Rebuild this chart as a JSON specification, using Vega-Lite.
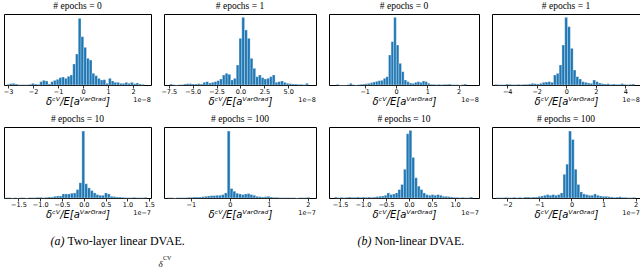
{
"$schema": "https://vega.github.io/schema/vega-lite/v6.json",
"background": "white",
"padding": {"left": 2, "top": 0, "right": 0, "bottom": 0},
"spacing": 11,
"vconcat": [
 {"bounds": "flush", "columns": 4, "spacing": {"row": 42, "column": 13}, "concat": [
    {"title": "# epochs = 0", "width": 147, "height": 71, "layer": [
     {"data": {"name": "p1"}, "mark": {"type": "bar", "color": "#1f77b4", "stroke": "#ffffff", "strokeWidth": 0.3},
      "encoding": {"x": {"field": "lo", "type": "quantitative", "scale": {"domain": [-3.16, 2.72], "nice": false, "zero": false}, "axis": {"values": [-3,-2,-1,0,1,2], "labelExpr": "replace(format(datum.value,'d'),'-','−')", "title": "δᶜⱽ/E[aⱽᵃʳᴳʳᵃᵈ]"}},
       "x2": {"field": "hi"}, "y": {"field": "n", "type": "quantitative", "scale": {"domain": [0, 213]}, "axis": null}, "y2": {"datum": 0}}},
     {"data": {"name": "s8"}, "mark": {"type": "text", "align": "right", "baseline": "middle", "dy": 15, "font": "DejaVu Sans", "fontSize": 6.5, "color": "#000"},
      "encoding": {"x": {"value": "width"}, "y": {"value": "height"}, "text": {"field": "s"}}}
    ]},
    {"title": "# epochs = 1", "width": 152, "height": 71, "layer": [
     {"data": {"name": "p2"}, "mark": {"type": "bar", "color": "#1f77b4", "stroke": "#ffffff", "strokeWidth": 0.3},
      "encoding": {"x": {"field": "lo", "type": "quantitative", "scale": {"domain": [-8.0, 7.9], "nice": false, "zero": false}, "axis": {"values": [-7.5,-5,-2.5,0,2.5,5], "labelExpr": "replace(format(datum.value,'.1f'),'-','−')", "title": "δᶜⱽ/E[aⱽᵃʳᴳʳᵃᵈ]"}},
       "x2": {"field": "hi"}, "y": {"field": "n", "type": "quantitative", "scale": {"domain": [0, 213]}, "axis": null}, "y2": {"datum": 0}}},
     {"data": {"name": "s8"}, "mark": {"type": "text", "align": "right", "baseline": "middle", "dy": 15, "font": "DejaVu Sans", "fontSize": 6.5, "color": "#000"},
      "encoding": {"x": {"value": "width"}, "y": {"value": "height"}, "text": {"field": "s"}}}
    ]},
    {"title": "# epochs = 0", "width": 150, "height": 71, "layer": [
     {"data": {"name": "p3"}, "mark": {"type": "bar", "color": "#1f77b4", "stroke": "#ffffff", "strokeWidth": 0.3},
      "encoding": {"x": {"field": "lo", "type": "quantitative", "scale": {"domain": [-2.14, 2.65], "nice": false, "zero": false}, "axis": {"values": [-1,0,1,2], "labelExpr": "replace(format(datum.value,'d'),'-','−')", "title": "δᶜⱽ/E[aⱽᵃʳᴳʳᵃᵈ]"}},
       "x2": {"field": "hi"}, "y": {"field": "n", "type": "quantitative", "scale": {"domain": [0, 213]}, "axis": null}, "y2": {"datum": 0}}},
     {"data": {"name": "s8"}, "mark": {"type": "text", "align": "right", "baseline": "middle", "dy": 15, "font": "DejaVu Sans", "fontSize": 6.5, "color": "#000"},
      "encoding": {"x": {"value": "width"}, "y": {"value": "height"}, "text": {"field": "s"}}}
    ]},
    {"title": "# epochs = 1", "width": 148, "height": 71, "layer": [
     {"data": {"name": "p4"}, "mark": {"type": "bar", "color": "#1f77b4", "stroke": "#ffffff", "strokeWidth": 0.3},
      "encoding": {"x": {"field": "lo", "type": "quantitative", "scale": {"domain": [-5.03, 5.0], "nice": false, "zero": false}, "axis": {"values": [-4,-2,0,2,4], "labelExpr": "replace(format(datum.value,'d'),'-','−')", "title": "δᶜⱽ/E[aⱽᵃʳᴳʳᵃᵈ]"}},
       "x2": {"field": "hi"}, "y": {"field": "n", "type": "quantitative", "scale": {"domain": [0, 213]}, "axis": null}, "y2": {"datum": 0}}},
     {"data": {"name": "s8"}, "mark": {"type": "text", "align": "right", "baseline": "middle", "dy": 15, "font": "DejaVu Sans", "fontSize": 6.5, "color": "#000"},
      "encoding": {"x": {"value": "width"}, "y": {"value": "height"}, "text": {"field": "s"}}}
    ]},
    {"title": "# epochs = 10", "width": 147, "height": 71, "layer": [
     {"data": {"name": "p5"}, "mark": {"type": "bar", "color": "#1f77b4", "stroke": "#ffffff", "strokeWidth": 0.3},
      "encoding": {"x": {"field": "lo", "type": "quantitative", "scale": {"domain": [-1.83, 1.54], "nice": false, "zero": false}, "axis": {"values": [-1.5,-1,-0.5,0,0.5,1,1.5], "labelExpr": "replace(format(datum.value,'.1f'),'-','−')", "title": "δᶜⱽ/E[aⱽᵃʳᴳʳᵃᵈ]"}},
       "x2": {"field": "hi"}, "y": {"field": "n", "type": "quantitative", "scale": {"domain": [0, 210]}, "axis": null}, "y2": {"datum": 0}}},
     {"data": {"name": "s7"}, "mark": {"type": "text", "align": "right", "baseline": "middle", "dy": 15, "font": "DejaVu Sans", "fontSize": 6.5, "color": "#000"},
      "encoding": {"x": {"value": "width"}, "y": {"value": "height"}, "text": {"field": "s"}}}
    ]},
    {"title": "# epochs = 100", "width": 152, "height": 71, "layer": [
     {"data": {"name": "p6"}, "mark": {"type": "bar", "color": "#1f77b4", "stroke": "#ffffff", "strokeWidth": 0.3},
      "encoding": {"x": {"field": "lo", "type": "quantitative", "scale": {"domain": [-1.69, 2.21], "nice": false, "zero": false}, "axis": {"values": [-1,0,1,2], "labelExpr": "replace(format(datum.value,'d'),'-','−')", "title": "δᶜⱽ/E[aⱽᵃʳᴳʳᵃᵈ]"}},
       "x2": {"field": "hi"}, "y": {"field": "n", "type": "quantitative", "scale": {"domain": [0, 210]}, "axis": null}, "y2": {"datum": 0}}},
     {"data": {"name": "s7"}, "mark": {"type": "text", "align": "right", "baseline": "middle", "dy": 15, "font": "DejaVu Sans", "fontSize": 6.5, "color": "#000"},
      "encoding": {"x": {"value": "width"}, "y": {"value": "height"}, "text": {"field": "s"}}}
    ]},
    {"title": "# epochs = 10", "width": 150, "height": 71, "layer": [
     {"data": {"name": "p7"}, "mark": {"type": "bar", "color": "#1f77b4", "stroke": "#ffffff", "strokeWidth": 0.3},
      "encoding": {"x": {"field": "lo", "type": "quantitative", "scale": {"domain": [-1.74, 1.52], "nice": false, "zero": false}, "axis": {"values": [-1.5,-1,-0.5,0,0.5,1], "labelExpr": "replace(format(datum.value,'.1f'),'-','−')", "title": "δᶜⱽ/E[aⱽᵃʳᴳʳᵃᵈ]"}},
       "x2": {"field": "hi"}, "y": {"field": "n", "type": "quantitative", "scale": {"domain": [0, 210]}, "axis": null}, "y2": {"datum": 0}}},
     {"data": {"name": "s7"}, "mark": {"type": "text", "align": "right", "baseline": "middle", "dy": 15, "font": "DejaVu Sans", "fontSize": 6.5, "color": "#000"},
      "encoding": {"x": {"value": "width"}, "y": {"value": "height"}, "text": {"field": "s"}}}
    ]},
    {"title": "# epochs = 100", "width": 148, "height": 71, "layer": [
     {"data": {"name": "p8"}, "mark": {"type": "bar", "color": "#1f77b4", "stroke": "#ffffff", "strokeWidth": 0.3},
      "encoding": {"x": {"field": "lo", "type": "quantitative", "scale": {"domain": [-2.48, 2.14], "nice": false, "zero": false}, "axis": {"values": [-2,-1,0,1,2], "labelExpr": "replace(format(datum.value,'d'),'-','−')", "title": "δᶜⱽ/E[aⱽᵃʳᴳʳᵃᵈ]"}},
       "x2": {"field": "hi"}, "y": {"field": "n", "type": "quantitative", "scale": {"domain": [0, 210]}, "axis": null}, "y2": {"datum": 0}}},
     {"data": {"name": "s7"}, "mark": {"type": "text", "align": "right", "baseline": "middle", "dy": 15, "font": "DejaVu Sans", "fontSize": 6.5, "color": "#000"},
      "encoding": {"x": {"value": "width"}, "y": {"value": "height"}, "text": {"field": "s"}}}
    ]}
 ]},
 {"width": 614, "height": 20, "view": {"stroke": null}, "layer": [
  {"data": {"name": "captions"}, "mark": {"type": "text", "font": "Liberation Serif", "fontSize": 12, "fontStyle": "italic", "align": "right", "baseline": "middle", "dx": -93, "color": "#000"},
   "encoding": {"x": {"field": "panel", "type": "nominal", "axis": null}, "text": {"field": "tag"}}},
  {"data": {"name": "captions"}, "mark": {"type": "text", "font": "Liberation Serif", "fontSize": 12, "align": "left", "baseline": "middle", "dx": -90, "color": "#000"},
   "encoding": {"x": {"field": "panel", "type": "nominal", "axis": null}, "text": {"field": "name"}}},
  {"data": {"name": "frag"}, "mark": {"type": "text", "font": "Liberation Serif", "fontSize": 9, "fontStyle": "italic", "align": "left", "baseline": "middle", "dx": 1, "dy": 23, "color": "#000"},
   "encoding": {"x": {"field": "panel", "type": "nominal", "axis": null}, "text": {"field": "base"}}},
  {"data": {"name": "frag"}, "mark": {"type": "text", "font": "Liberation Serif", "fontSize": 6, "align": "left", "baseline": "middle", "dx": 5.5, "dy": 17, "color": "#000"},
   "encoding": {"x": {"field": "panel", "type": "nominal", "axis": null}, "text": {"field": "sup"}}}
 ]}
],
"datasets": {
 "s8": [{"s": "1e−8"}],
 "s7": [{"s": "1e−7"}],
 "captions": [{"panel": "a", "tag": "(a)", "name": "Two-layer linear DVAE."}, {"panel": "b", "tag": "(b)", "name": "Non-linear DVAE."}],
 "frag": [{"panel": "a", "base": "δ", "sup": "CV"}],
 "p1": [{"lo":-3.05,"hi":-2.94,"n":2},{"lo":-2.94,"hi":-2.83,"n":4},{"lo":-2.83,"hi":-2.72,"n":5},{"lo":-2.72,"hi":-2.61,"n":3},{"lo":-2.61,"hi":-2.5,"n":1},{"lo":-2.5,"hi":-2.39,"n":1},{"lo":-2.39,"hi":-2.28,"n":1},{"lo":-2.28,"hi":-2.17,"n":1},{"lo":-2.17,"hi":-2.06,"n":2},{"lo":-2.06,"hi":-1.95,"n":5},{"lo":-1.95,"hi":-1.84,"n":3},{"lo":-1.84,"hi":-1.73,"n":2},{"lo":-1.73,"hi":-1.62,"n":10},{"lo":-1.62,"hi":-1.51,"n":14},{"lo":-1.51,"hi":-1.4,"n":12},{"lo":-1.4,"hi":-1.29,"n":3},{"lo":-1.29,"hi":-1.18,"n":10},{"lo":-1.18,"hi":-1.07,"n":14},{"lo":-1.07,"hi":-0.96,"n":17},{"lo":-0.96,"hi":-0.85,"n":22},{"lo":-0.85,"hi":-0.74,"n":24},{"lo":-0.74,"hi":-0.63,"n":20},{"lo":-0.63,"hi":-0.52,"n":26},{"lo":-0.52,"hi":-0.41,"n":30},{"lo":-0.41,"hi":-0.3,"n":63},{"lo":-0.3,"hi":-0.19,"n":93},{"lo":-0.19,"hi":-0.08,"n":200},{"lo":-0.08,"hi":0.03,"n":145},{"lo":0.03,"hi":0.14,"n":113},{"lo":0.14,"hi":0.25,"n":80},{"lo":0.25,"hi":0.36,"n":75},{"lo":0.36,"hi":0.47,"n":35},{"lo":0.47,"hi":0.58,"n":28},{"lo":0.58,"hi":0.69,"n":20},{"lo":0.69,"hi":0.8,"n":15},{"lo":0.8,"hi":0.91,"n":16},{"lo":0.91,"hi":1.02,"n":5},{"lo":1.02,"hi":1.13,"n":20},{"lo":1.13,"hi":1.24,"n":12},{"lo":1.24,"hi":1.35,"n":8},{"lo":1.35,"hi":1.46,"n":8},{"lo":1.46,"hi":1.57,"n":5},{"lo":1.57,"hi":1.68,"n":5},{"lo":1.68,"hi":1.79,"n":8},{"lo":1.79,"hi":1.9,"n":5},{"lo":1.9,"hi":2.01,"n":8},{"lo":2.01,"hi":2.12,"n":4},{"lo":2.12,"hi":2.23,"n":6},{"lo":2.23,"hi":2.34,"n":3},{"lo":2.34,"hi":2.45,"n":2}],
 "p2": [{"lo":-7.4,"hi":-7.11,"n":3},{"lo":-7.11,"hi":-6.82,"n":1},{"lo":-6.82,"hi":-6.53,"n":0},{"lo":-6.53,"hi":-6.24,"n":1},{"lo":-6.24,"hi":-5.95,"n":1},{"lo":-5.95,"hi":-5.66,"n":3},{"lo":-5.66,"hi":-5.37,"n":4},{"lo":-5.37,"hi":-5.08,"n":4},{"lo":-5.08,"hi":-4.79,"n":3},{"lo":-4.79,"hi":-4.5,"n":3},{"lo":-4.5,"hi":-4.21,"n":4},{"lo":-4.21,"hi":-3.92,"n":3},{"lo":-3.92,"hi":-3.63,"n":8},{"lo":-3.63,"hi":-3.34,"n":10},{"lo":-3.34,"hi":-3.05,"n":6},{"lo":-3.05,"hi":-2.76,"n":8},{"lo":-2.76,"hi":-2.47,"n":10},{"lo":-2.47,"hi":-2.18,"n":13},{"lo":-2.18,"hi":-1.89,"n":18},{"lo":-1.89,"hi":-1.6,"n":30},{"lo":-1.6,"hi":-1.31,"n":35},{"lo":-1.31,"hi":-1.02,"n":32},{"lo":-1.02,"hi":-0.73,"n":15},{"lo":-0.73,"hi":-0.44,"n":20},{"lo":-0.44,"hi":-0.15,"n":60},{"lo":-0.15,"hi":0.14,"n":140},{"lo":0.14,"hi":0.43,"n":203},{"lo":0.43,"hi":0.72,"n":165},{"lo":0.72,"hi":1.01,"n":140},{"lo":1.01,"hi":1.3,"n":80},{"lo":1.3,"hi":1.59,"n":50},{"lo":1.59,"hi":1.88,"n":25},{"lo":1.88,"hi":2.17,"n":30},{"lo":2.17,"hi":2.46,"n":22},{"lo":2.46,"hi":2.75,"n":18},{"lo":2.75,"hi":3.04,"n":20},{"lo":3.04,"hi":3.33,"n":25},{"lo":3.33,"hi":3.62,"n":30},{"lo":3.62,"hi":3.91,"n":8},{"lo":3.91,"hi":4.2,"n":10},{"lo":4.2,"hi":4.49,"n":12},{"lo":4.49,"hi":4.78,"n":8},{"lo":4.78,"hi":5.07,"n":5},{"lo":5.07,"hi":5.36,"n":4},{"lo":5.36,"hi":5.65,"n":3},{"lo":5.65,"hi":5.94,"n":3},{"lo":5.94,"hi":6.23,"n":2},{"lo":6.23,"hi":6.52,"n":2},{"lo":6.52,"hi":6.81,"n":1},{"lo":6.81,"hi":7.1,"n":5}],
 "p3": [{"lo":-1.9,"hi":-1.817,"n":2},{"lo":-1.817,"hi":-1.734,"n":0},{"lo":-1.734,"hi":-1.651,"n":0},{"lo":-1.651,"hi":-1.568,"n":0},{"lo":-1.568,"hi":-1.485,"n":1},{"lo":-1.485,"hi":-1.402,"n":5},{"lo":-1.402,"hi":-1.319,"n":1},{"lo":-1.319,"hi":-1.236,"n":0},{"lo":-1.236,"hi":-1.153,"n":1},{"lo":-1.153,"hi":-1.07,"n":2},{"lo":-1.07,"hi":-0.987,"n":3},{"lo":-0.987,"hi":-0.904,"n":4},{"lo":-0.904,"hi":-0.821,"n":5},{"lo":-0.821,"hi":-0.738,"n":7},{"lo":-0.738,"hi":-0.655,"n":9},{"lo":-0.655,"hi":-0.572,"n":11},{"lo":-0.572,"hi":-0.489,"n":13},{"lo":-0.489,"hi":-0.406,"n":14},{"lo":-0.406,"hi":-0.323,"n":20},{"lo":-0.323,"hi":-0.24,"n":25},{"lo":-0.24,"hi":-0.157,"n":90},{"lo":-0.157,"hi":-0.074,"n":130},{"lo":-0.074,"hi":0.009,"n":203},{"lo":0.009,"hi":0.092,"n":120},{"lo":0.092,"hi":0.175,"n":65},{"lo":0.175,"hi":0.258,"n":40},{"lo":0.258,"hi":0.341,"n":15},{"lo":0.341,"hi":0.424,"n":10},{"lo":0.424,"hi":0.507,"n":6},{"lo":0.507,"hi":0.59,"n":5},{"lo":0.59,"hi":0.673,"n":8},{"lo":0.673,"hi":0.756,"n":10},{"lo":0.756,"hi":0.839,"n":8},{"lo":0.839,"hi":0.922,"n":12},{"lo":0.922,"hi":1.005,"n":10},{"lo":1.005,"hi":1.088,"n":5},{"lo":1.088,"hi":1.171,"n":2},{"lo":1.171,"hi":1.254,"n":2},{"lo":1.254,"hi":1.337,"n":1},{"lo":1.337,"hi":1.42,"n":2},{"lo":1.42,"hi":1.503,"n":1},{"lo":1.503,"hi":1.586,"n":2},{"lo":1.586,"hi":1.669,"n":2},{"lo":1.669,"hi":1.752,"n":3},{"lo":1.752,"hi":1.835,"n":1},{"lo":1.835,"hi":1.918,"n":1},{"lo":1.918,"hi":2.001,"n":1},{"lo":2.001,"hi":2.084,"n":0},{"lo":2.084,"hi":2.167,"n":1},{"lo":2.167,"hi":2.25,"n":3}],
 "p4": [{"lo":-4.85,"hi":-4.66,"n":2},{"lo":-4.66,"hi":-4.47,"n":1},{"lo":-4.47,"hi":-4.28,"n":1},{"lo":-4.28,"hi":-4.09,"n":1},{"lo":-4.09,"hi":-3.9,"n":3},{"lo":-3.9,"hi":-3.71,"n":2},{"lo":-3.71,"hi":-3.52,"n":1},{"lo":-3.52,"hi":-3.33,"n":1},{"lo":-3.33,"hi":-3.14,"n":2},{"lo":-3.14,"hi":-2.95,"n":1},{"lo":-2.95,"hi":-2.76,"n":2},{"lo":-2.76,"hi":-2.57,"n":2},{"lo":-2.57,"hi":-2.38,"n":3},{"lo":-2.38,"hi":-2.19,"n":5},{"lo":-2.19,"hi":-2.0,"n":4},{"lo":-2.0,"hi":-1.81,"n":3},{"lo":-1.81,"hi":-1.62,"n":5},{"lo":-1.62,"hi":-1.43,"n":8},{"lo":-1.43,"hi":-1.24,"n":9},{"lo":-1.24,"hi":-1.05,"n":10},{"lo":-1.05,"hi":-0.86,"n":8},{"lo":-0.86,"hi":-0.67,"n":30},{"lo":-0.67,"hi":-0.48,"n":35},{"lo":-0.48,"hi":-0.29,"n":60},{"lo":-0.29,"hi":-0.1,"n":120},{"lo":-0.1,"hi":0.09,"n":203},{"lo":0.09,"hi":0.28,"n":175},{"lo":0.28,"hi":0.47,"n":110},{"lo":0.47,"hi":0.66,"n":45},{"lo":0.66,"hi":0.85,"n":25},{"lo":0.85,"hi":1.04,"n":18},{"lo":1.04,"hi":1.23,"n":10},{"lo":1.23,"hi":1.42,"n":8},{"lo":1.42,"hi":1.61,"n":6},{"lo":1.61,"hi":1.8,"n":5},{"lo":1.8,"hi":1.99,"n":15},{"lo":1.99,"hi":2.18,"n":10},{"lo":2.18,"hi":2.37,"n":6},{"lo":2.37,"hi":2.56,"n":4},{"lo":2.56,"hi":2.75,"n":3},{"lo":2.75,"hi":2.94,"n":4},{"lo":2.94,"hi":3.13,"n":2},{"lo":3.13,"hi":3.32,"n":3},{"lo":3.32,"hi":3.51,"n":2},{"lo":3.51,"hi":3.7,"n":2},{"lo":3.7,"hi":3.89,"n":4},{"lo":3.89,"hi":4.08,"n":2},{"lo":4.08,"hi":4.27,"n":1},{"lo":4.27,"hi":4.46,"n":2},{"lo":4.46,"hi":4.65,"n":3}],
 "p5": [{"lo":-1.8,"hi":-1.735,"n":1},{"lo":-1.735,"hi":-1.67,"n":1},{"lo":-1.67,"hi":-1.605,"n":0},{"lo":-1.605,"hi":-1.54,"n":1},{"lo":-1.54,"hi":-1.475,"n":0},{"lo":-1.475,"hi":-1.41,"n":1},{"lo":-1.41,"hi":-1.345,"n":1},{"lo":-1.345,"hi":-1.28,"n":0},{"lo":-1.28,"hi":-1.215,"n":1},{"lo":-1.215,"hi":-1.15,"n":1},{"lo":-1.15,"hi":-1.085,"n":1},{"lo":-1.085,"hi":-1.02,"n":2},{"lo":-1.02,"hi":-0.955,"n":2},{"lo":-0.955,"hi":-0.89,"n":1},{"lo":-0.89,"hi":-0.825,"n":2},{"lo":-0.825,"hi":-0.76,"n":3},{"lo":-0.76,"hi":-0.695,"n":3},{"lo":-0.695,"hi":-0.63,"n":5},{"lo":-0.63,"hi":-0.565,"n":6},{"lo":-0.565,"hi":-0.5,"n":6},{"lo":-0.5,"hi":-0.435,"n":12},{"lo":-0.435,"hi":-0.37,"n":12},{"lo":-0.37,"hi":-0.305,"n":12},{"lo":-0.305,"hi":-0.24,"n":14},{"lo":-0.24,"hi":-0.175,"n":15},{"lo":-0.175,"hi":-0.11,"n":25},{"lo":-0.11,"hi":-0.045,"n":45},{"lo":-0.045,"hi":0.02,"n":198},{"lo":0.02,"hi":0.085,"n":42},{"lo":0.085,"hi":0.15,"n":30},{"lo":0.15,"hi":0.215,"n":22},{"lo":0.215,"hi":0.28,"n":15},{"lo":0.28,"hi":0.345,"n":10},{"lo":0.345,"hi":0.41,"n":8},{"lo":0.41,"hi":0.475,"n":8},{"lo":0.475,"hi":0.54,"n":15},{"lo":0.54,"hi":0.605,"n":12},{"lo":0.605,"hi":0.67,"n":5},{"lo":0.67,"hi":0.735,"n":4},{"lo":0.735,"hi":0.8,"n":3},{"lo":0.8,"hi":0.865,"n":3},{"lo":0.865,"hi":0.93,"n":2},{"lo":0.93,"hi":0.995,"n":1},{"lo":0.995,"hi":1.06,"n":1},{"lo":1.06,"hi":1.125,"n":1},{"lo":1.125,"hi":1.19,"n":2},{"lo":1.19,"hi":1.255,"n":1},{"lo":1.255,"hi":1.32,"n":1},{"lo":1.32,"hi":1.385,"n":1},{"lo":1.385,"hi":1.45,"n":2}],
 "p6": [{"lo":-1.6,"hi":-1.527,"n":1},{"lo":-1.527,"hi":-1.454,"n":1},{"lo":-1.454,"hi":-1.381,"n":0},{"lo":-1.381,"hi":-1.308,"n":1},{"lo":-1.308,"hi":-1.235,"n":1},{"lo":-1.235,"hi":-1.162,"n":1},{"lo":-1.162,"hi":-1.089,"n":1},{"lo":-1.089,"hi":-1.016,"n":2},{"lo":-1.016,"hi":-0.943,"n":2},{"lo":-0.943,"hi":-0.87,"n":3},{"lo":-0.87,"hi":-0.797,"n":3},{"lo":-0.797,"hi":-0.724,"n":3},{"lo":-0.724,"hi":-0.651,"n":4},{"lo":-0.651,"hi":-0.578,"n":5},{"lo":-0.578,"hi":-0.505,"n":6},{"lo":-0.505,"hi":-0.432,"n":7},{"lo":-0.432,"hi":-0.359,"n":7},{"lo":-0.359,"hi":-0.286,"n":8},{"lo":-0.286,"hi":-0.213,"n":8},{"lo":-0.213,"hi":-0.14,"n":10},{"lo":-0.14,"hi":-0.067,"n":15},{"lo":-0.067,"hi":0.006,"n":198},{"lo":0.006,"hi":0.079,"n":28},{"lo":0.079,"hi":0.152,"n":20},{"lo":0.152,"hi":0.225,"n":14},{"lo":0.225,"hi":0.298,"n":12},{"lo":0.298,"hi":0.371,"n":10},{"lo":0.371,"hi":0.444,"n":12},{"lo":0.444,"hi":0.517,"n":13},{"lo":0.517,"hi":0.59,"n":10},{"lo":0.59,"hi":0.663,"n":8},{"lo":0.663,"hi":0.736,"n":5},{"lo":0.736,"hi":0.809,"n":4},{"lo":0.809,"hi":0.882,"n":3},{"lo":0.882,"hi":0.955,"n":4},{"lo":0.955,"hi":1.028,"n":5},{"lo":1.028,"hi":1.101,"n":3},{"lo":1.101,"hi":1.174,"n":2},{"lo":1.174,"hi":1.247,"n":2},{"lo":1.247,"hi":1.32,"n":1},{"lo":1.32,"hi":1.393,"n":1},{"lo":1.393,"hi":1.466,"n":1},{"lo":1.466,"hi":1.539,"n":1},{"lo":1.539,"hi":1.612,"n":1},{"lo":1.612,"hi":1.685,"n":1},{"lo":1.685,"hi":1.758,"n":0},{"lo":1.758,"hi":1.831,"n":1},{"lo":1.831,"hi":1.904,"n":1},{"lo":1.904,"hi":1.977,"n":1},{"lo":1.977,"hi":2.05,"n":2}],
 "p7": [{"lo":-1.62,"hi":-1.56,"n":3},{"lo":-1.56,"hi":-1.5,"n":1},{"lo":-1.5,"hi":-1.44,"n":2},{"lo":-1.44,"hi":-1.38,"n":1},{"lo":-1.38,"hi":-1.32,"n":2},{"lo":-1.32,"hi":-1.26,"n":3},{"lo":-1.26,"hi":-1.2,"n":2},{"lo":-1.2,"hi":-1.14,"n":2},{"lo":-1.14,"hi":-1.08,"n":3},{"lo":-1.08,"hi":-1.02,"n":2},{"lo":-1.02,"hi":-0.96,"n":3},{"lo":-0.96,"hi":-0.9,"n":2},{"lo":-0.9,"hi":-0.84,"n":3},{"lo":-0.84,"hi":-0.78,"n":2},{"lo":-0.78,"hi":-0.72,"n":3},{"lo":-0.72,"hi":-0.66,"n":4},{"lo":-0.66,"hi":-0.6,"n":5},{"lo":-0.6,"hi":-0.54,"n":6},{"lo":-0.54,"hi":-0.48,"n":8},{"lo":-0.48,"hi":-0.42,"n":15},{"lo":-0.42,"hi":-0.36,"n":10},{"lo":-0.36,"hi":-0.3,"n":12},{"lo":-0.3,"hi":-0.24,"n":15},{"lo":-0.24,"hi":-0.18,"n":25},{"lo":-0.18,"hi":-0.12,"n":40},{"lo":-0.12,"hi":-0.06,"n":85},{"lo":-0.06,"hi":0,"n":190},{"lo":0,"hi":0.06,"n":200},{"lo":0.06,"hi":0.12,"n":120},{"lo":0.12,"hi":0.18,"n":60},{"lo":0.18,"hi":0.24,"n":35},{"lo":0.24,"hi":0.3,"n":25},{"lo":0.3,"hi":0.36,"n":15},{"lo":0.36,"hi":0.42,"n":10},{"lo":0.42,"hi":0.48,"n":8},{"lo":0.48,"hi":0.54,"n":10},{"lo":0.54,"hi":0.6,"n":8},{"lo":0.6,"hi":0.66,"n":10},{"lo":0.66,"hi":0.72,"n":8},{"lo":0.72,"hi":0.78,"n":5},{"lo":0.78,"hi":0.84,"n":5},{"lo":0.84,"hi":0.9,"n":4},{"lo":0.9,"hi":0.96,"n":3},{"lo":0.96,"hi":1.02,"n":2},{"lo":1.02,"hi":1.08,"n":2},{"lo":1.08,"hi":1.14,"n":1},{"lo":1.14,"hi":1.2,"n":2},{"lo":1.2,"hi":1.26,"n":1},{"lo":1.26,"hi":1.32,"n":1},{"lo":1.32,"hi":1.38,"n":3}],
 "p8": [{"lo":-2.35,"hi":-2.263,"n":1},{"lo":-2.263,"hi":-2.176,"n":1},{"lo":-2.176,"hi":-2.089,"n":1},{"lo":-2.089,"hi":-2.002,"n":2},{"lo":-2.002,"hi":-1.915,"n":1},{"lo":-1.915,"hi":-1.828,"n":1},{"lo":-1.828,"hi":-1.741,"n":2},{"lo":-1.741,"hi":-1.654,"n":1},{"lo":-1.654,"hi":-1.567,"n":2},{"lo":-1.567,"hi":-1.48,"n":1},{"lo":-1.48,"hi":-1.393,"n":3},{"lo":-1.393,"hi":-1.306,"n":3},{"lo":-1.306,"hi":-1.219,"n":2},{"lo":-1.219,"hi":-1.132,"n":3},{"lo":-1.132,"hi":-1.045,"n":3},{"lo":-1.045,"hi":-0.958,"n":5},{"lo":-0.958,"hi":-0.871,"n":6},{"lo":-0.871,"hi":-0.784,"n":8},{"lo":-0.784,"hi":-0.697,"n":10},{"lo":-0.697,"hi":-0.61,"n":8},{"lo":-0.61,"hi":-0.523,"n":10},{"lo":-0.523,"hi":-0.436,"n":8},{"lo":-0.436,"hi":-0.349,"n":10},{"lo":-0.349,"hi":-0.262,"n":15},{"lo":-0.262,"hi":-0.175,"n":70},{"lo":-0.175,"hi":-0.088,"n":100},{"lo":-0.088,"hi":-0.001,"n":198},{"lo":-0.001,"hi":0.086,"n":173},{"lo":0.086,"hi":0.173,"n":85},{"lo":0.173,"hi":0.26,"n":40},{"lo":0.26,"hi":0.347,"n":18},{"lo":0.347,"hi":0.434,"n":12},{"lo":0.434,"hi":0.521,"n":10},{"lo":0.521,"hi":0.608,"n":8},{"lo":0.608,"hi":0.695,"n":8},{"lo":0.695,"hi":0.782,"n":12},{"lo":0.782,"hi":0.869,"n":8},{"lo":0.869,"hi":0.956,"n":6},{"lo":0.956,"hi":1.043,"n":5},{"lo":1.043,"hi":1.13,"n":5},{"lo":1.13,"hi":1.217,"n":4},{"lo":1.217,"hi":1.304,"n":3},{"lo":1.304,"hi":1.391,"n":2},{"lo":1.391,"hi":1.478,"n":3},{"lo":1.478,"hi":1.565,"n":4},{"lo":1.565,"hi":1.652,"n":2},{"lo":1.652,"hi":1.739,"n":2},{"lo":1.739,"hi":1.826,"n":1},{"lo":1.826,"hi":1.913,"n":1},{"lo":1.913,"hi":2.0,"n":2}]
},
"config": {
 "font": "DejaVu Sans",
 "view": {"stroke": "#000000", "strokeWidth": 1},
 "title": {"font": "Liberation Serif", "fontSize": 9.5, "fontWeight": "normal", "color": "#000000", "offset": 0},
 "axis": {"domain": false, "grid": false, "ticks": true, "tickColor": "#000000", "tickSize": 3, "tickWidth": 0.8, "labelFont": "DejaVu Sans", "labelFontSize": 6.5, "labelColor": "#000000", "labelPadding": 0.5, "labelFlush": false, "labelOverlap": false, "titleFont": "DejaVu Sans", "titleFontSize": 10, "titleFontStyle": "italic", "titleFontWeight": "normal", "titleColor": "#000000", "titlePadding": 1}
}
}
